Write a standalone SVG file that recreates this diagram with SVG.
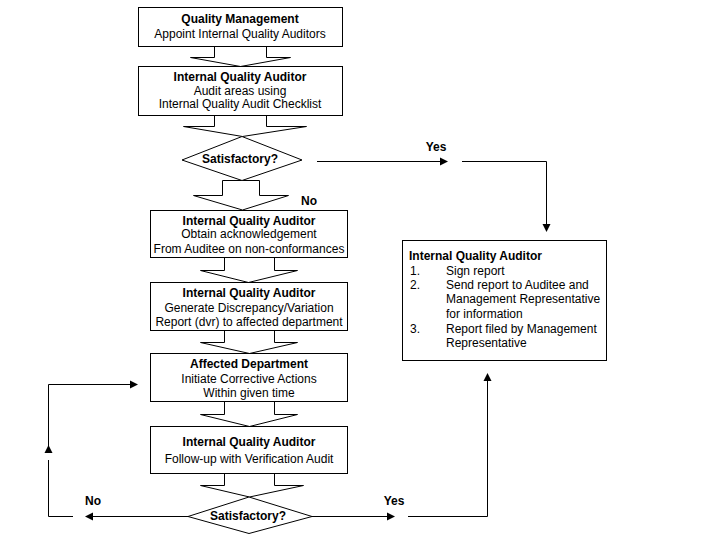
<svg xmlns="http://www.w3.org/2000/svg" width="720" height="540" viewBox="0 0 720 540">
<style>
.box{fill:#fff;stroke:#000;stroke-width:1}
.blk{fill:#fff;stroke:#000;stroke-width:1;stroke-linejoin:miter}
.ln{fill:none;stroke:#000;stroke-width:1}
.ah{fill:#000;stroke:none}
text{font-family:"Liberation Sans",Arial,sans-serif;font-size:12px;fill:#000}
.c{text-anchor:middle}
.b{font-weight:bold}
</style>
<rect width="720" height="540" fill="#fff"/>
<g id="connectors">
  <!-- block arrows -->
  <polyline class="blk" points="214.5,46.5 214.5,57.5 190.5,57.5 240.5,66.5 290.5,57.5 266.5,57.5 266.5,46.5"/>
  <polyline class="blk" points="214.5,115.5 214.5,126.5 183.5,126.5 242.5,136.5 306.5,126.5 266.5,126.5 266.5,115.5"/>
  <polygon class="blk" points="222.5,180.5 222.5,195.5 193.5,195.5 242.5,210 288.5,195.5 259.5,195.5 259.5,180.5"/>
  <polyline class="blk" points="224.5,257.5 224.5,270.5 200.5,270.5 248.5,282.5 297.5,270.5 274.5,270.5 274.5,257.5"/>
  <polyline class="blk" points="224.5,330.5 224.5,342.5 200.5,342.5 249.5,353.5 297.5,342.5 274.5,342.5 274.5,330.5"/>
  <polyline class="blk" points="224.5,401.5 224.5,414.5 200.5,414.5 249.5,426.5 297.5,414.5 274.5,414.5 274.5,401.5"/>
  <polyline class="blk" points="224.5,473.5 224.5,485.5 200.5,485.5 249.5,497 303.5,485.5 274.5,485.5 274.5,473.5"/>
  <!-- upper Yes -->
  <line class="ln" x1="317" y1="161.5" x2="442" y2="161.5"/>
  <polygon class="ah" points="448,161.5 440,157.5 440,165.5"/>
  <polyline class="ln" points="462,161.5 546.5,161.5 546.5,226"/>
  <polygon class="ah" points="546.5,232 542.5,224 550.5,224"/>
  <!-- lower Yes -->
  <line class="ln" x1="312" y1="516.5" x2="389" y2="516.5"/>
  <polygon class="ah" points="395,516.5 387,512.5 387,520.5"/>
  <polyline class="ln" points="408,516.5 487.5,516.5 487.5,379"/>
  <polygon class="ah" points="487.5,373 483.5,381 491.5,381"/>
  <!-- lower No loop -->
  <line class="ln" x1="188" y1="516.5" x2="91" y2="516.5"/>
  <polygon class="ah" points="85,516.5 93,512.5 93,520.5"/>
  <polyline class="ln" points="73,516.5 48.5,516.5 48.5,460"/>
  <polygon class="ah" points="48.5,445 44.5,453 52.5,453"/>
  <polyline class="ln" points="48.5,451 48.5,384.5 132,384.5"/>
  <polygon class="ah" points="138,384.5 130,380.5 130,388.5"/>
</g>
<g id="n1">
  <rect class="box" x="138.5" y="7.5" width="204" height="39"/>
  <text class="c b" x="240" y="23">Quality Management</text>
  <text class="c" x="240" y="38">Appoint Internal Quality Auditors</text>
</g>
<g id="n2">
  <rect class="box" x="138.5" y="66.5" width="204" height="49"/>
  <text class="c b" x="240" y="81">Internal Quality Auditor</text>
  <text class="c" x="240" y="95">Audit areas using</text>
  <text class="c" x="240" y="108">Internal Quality Audit Checklist</text>
</g>
<g id="d1">
  <polygon class="box" points="182,160 242,136.5 302,160 242,180.5"/>
  <text class="c b" x="240" y="163">Satisfactory?</text>
</g>
<g id="n3">
  <rect class="box" x="150.5" y="210.5" width="197" height="47"/>
  <text class="c b" x="249" y="225">Internal Quality Auditor</text>
  <text class="c" x="249" y="238">Obtain acknowledgement</text>
  <text class="c" x="249" y="253">From Auditee on non-conformances</text>
</g>
<g id="n4">
  <rect class="box" x="150.5" y="282.5" width="197" height="48"/>
  <text class="c b" x="249" y="297">Internal Quality Auditor</text>
  <text class="c" x="249" y="312">Generate Discrepancy/Variation</text>
  <text class="c" x="249" y="326">Report (dvr) to affected department</text>
</g>
<g id="n5">
  <rect class="box" x="150.5" y="353.5" width="197" height="48"/>
  <text class="c b" x="249" y="368">Affected Department</text>
  <text class="c" x="249" y="383">Initiate Corrective Actions</text>
  <text class="c" x="249" y="397">Within given time</text>
</g>
<g id="n6">
  <rect class="box" x="150.5" y="426.5" width="197" height="47"/>
  <text class="c b" x="249" y="446">Internal Quality Auditor</text>
  <text class="c" x="249" y="463">Follow-up with Verification Audit</text>
</g>
<g id="d2">
  <polygon class="box" points="188,516.5 249,497 312,516.5 249,533.5"/>
  <text class="c b" x="248" y="520">Satisfactory?</text>
</g>
<g id="n7">
  <rect class="box" x="402.5" y="240.5" width="204" height="120"/>
  <text class="b" x="409" y="260">Internal Quality Auditor</text>
  <text x="410" y="275">1.</text>
  <text x="446" y="275">Sign report</text>
  <text x="410" y="289">2.</text>
  <text x="446" y="289">Send report to Auditee and</text>
  <text x="446" y="303">Management Representative</text>
  <text x="446" y="318">for information</text>
  <text x="410" y="333">3.</text>
  <text x="446" y="333">Report filed by Management</text>
  <text x="446" y="347">Representative</text>
</g>
<g id="labels">
  <text class="c b" x="436" y="151">Yes</text>
  <text class="c b" x="309" y="205">No</text>
  <text class="c b" x="93" y="505">No</text>
  <text class="c b" x="394" y="505">Yes</text>
</g>
</svg>
